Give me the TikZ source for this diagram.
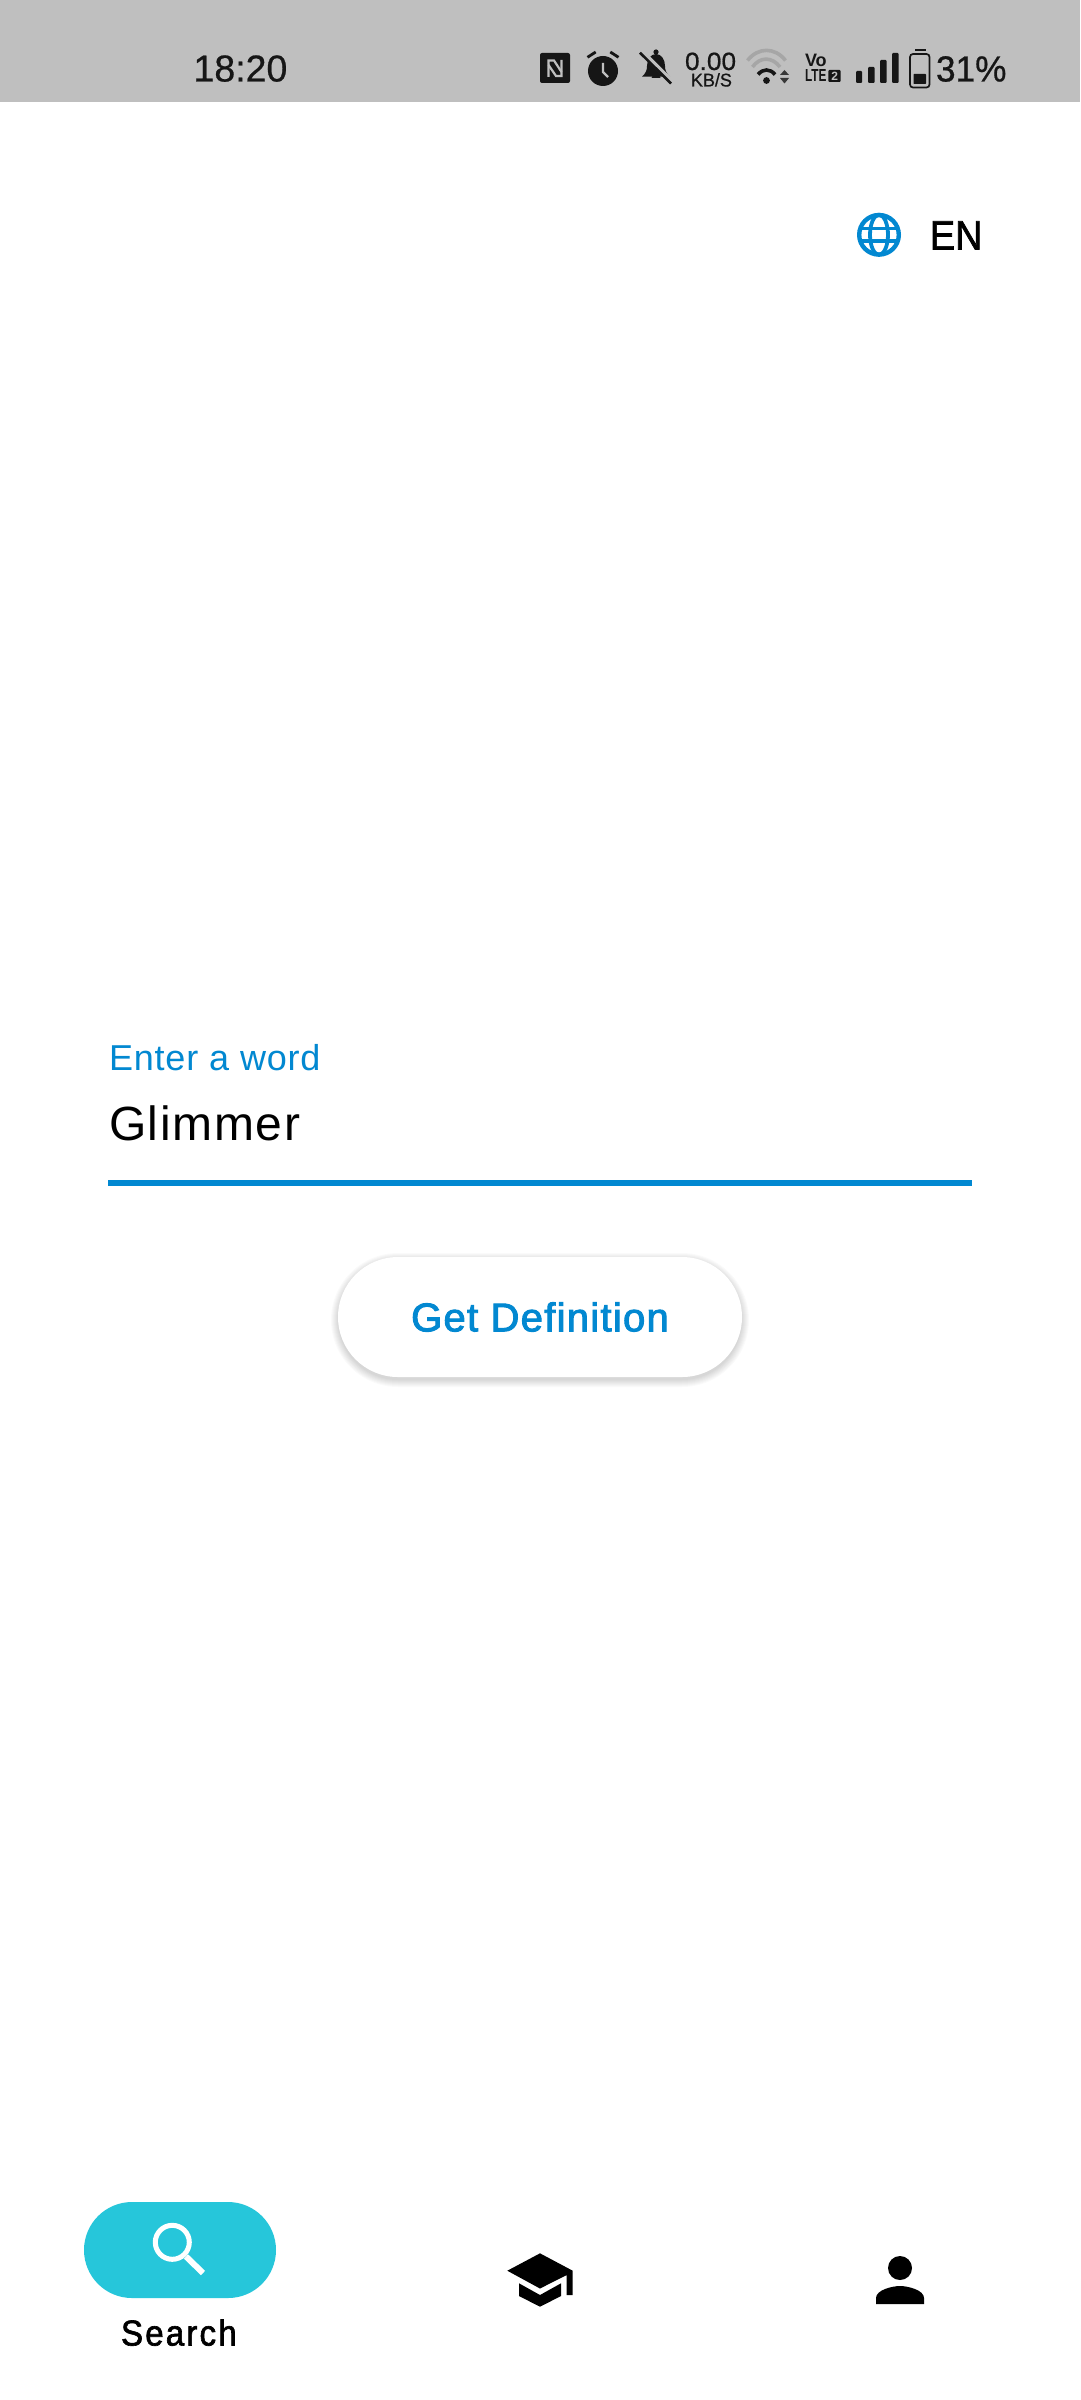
\documentclass[tikz,border=0pt]{standalone}
\usepackage{fontspec}
\setmainfont{Liberation Sans}
\newfontfamily\statusfont[FakeStretch=0.97,FakeBold=0.6]{Liberation Sans}
\newfontfamily\clockfont[FakeStretch=1.0,FakeBold=0.6]{Liberation Sans}
\newfontfamily\ratefont[FakeStretch=1.05,FakeBold=0.6]{Liberation Sans}
\newfontfamily\uifont{Liberation Sans}
\newfontfamily\medfont[FakeBold=2.4]{Liberation Sans}
\newfontfamily\mednarrow[FakeBold=1.8,FakeStretch=0.92]{Liberation Sans}
\definecolor{barbg}{HTML}{BFBFBF}
\definecolor{ink}{HTML}{161616}
\definecolor{accent}{HTML}{0288D1}
\definecolor{pill}{HTML}{26C6DA}
\definecolor{wifigrey}{HTML}{A6A6A6}
\tikzset{
  txt/.style={inner sep=0pt,outer sep=0pt,anchor=base west},
  icon/.style={fill=ink,draw=none},
  cut/.style={draw=barbg,line width=2.2pt},
}
\newcommand{\fs}[1]{\fontsize{#1}{#1}\selectfont}
\begin{document}
\begin{tikzpicture}[x=1pt,y=-1pt]
\useasboundingbox (0,0) rectangle (1080,2400);
\fill[white] (0,0) rectangle (1080,2400);
\fill[barbg] (0,0) rectangle (1080,102.5);
% status texts
\node[txt,text=ink] (clock) at (193.5,81.5) {\clockfont\fs{37.5}18:20};
\node[txt,text=ink] (pct) at (936,81.5) {\statusfont\fs{36.3}31\%};
\node[txt,text=ink] (rate) at (685,70) {\ratefont\fs{25}0.00};
\node[txt,text=ink] (unit) at (691,86.5) {\statusfont\fs{18.5}KB/S};
% NFC
\fill[icon,rounded corners=2pt] (540,53) rectangle (570,83);
\draw[cut,line join=miter] (548.5,77) -- (548.5,60.5) -- (554,60.5) -- (561.5,72);
\draw[cut,line join=miter] (561.5,60) -- (561.5,76) -- (556,76) -- (548.5,65);
% alarm
\fill[icon] (603,71) circle (15);
\draw[ink,line width=2.8pt] (587.5,57.3) -- (595.7,52);
\draw[ink,line width=2.8pt] (618.5,57.3) -- (610.3,52);
\draw[barbg,line width=2.4pt] (603,63) -- (603,72) -- (608,77);
% muted bell
\fill[icon] (656,52) circle (2.6);
\fill[icon] (642,76.7) .. controls (646,73) and (647,70) .. (647,66)
  .. controls (647,59) and (651,54) .. (656,54)
  .. controls (661,54) and (665,59) .. (665,66)
  .. controls (665,70) and (666,73) .. (670,76.7) -- cycle;
\fill[icon] (651.5,78) arc (180:0:4.5 and -3.7) -- cycle;
\draw[barbg,line width=5pt] (641,51) -- (672,82);
\draw[ink,line width=2.6pt] (640,52.7) -- (671,83.5);
% wifi
\draw[wifigrey,line width=3.6pt] (747.5,60.5) .. controls (758,47) and (775,47) .. (785.5,60.5);
\draw[wifigrey,line width=3.6pt] (752.5,67) .. controls (760,56.5) and (772,56.5) .. (780,67);
\draw[ink,line width=3.6pt] (758,74.5) .. controls (763,68.5) and (770,68.5) .. (775,74.5);
\fill[icon] (766.5,80.5) circle (3.4);
\fill[ink!80!barbg] (780,75) -- (784.5,70) -- (789,75) -- cycle;
\fill[ink!80!barbg] (780,78) -- (784.5,83.5) -- (789,78) -- cycle;
% VoLTE
\node[txt,text=ink] (vo) at (805,66.7) {\fs{18}\bfseries Vo};
\node[txt,text=ink] (lte) at (805,82) {\resizebox{21.5pt}{12pt}{\bfseries LTE}};
\fill[icon,rounded corners=1pt] (828.3,70) rectangle (840.5,82);
\node[txt,text=barbg] (lte2) at (831.3,80.5) {\fs{12}\bfseries 2};
% signal
\fill[icon,rounded corners=1pt] (856,71) rectangle (862,83);
\fill[icon,rounded corners=1pt] (868,67) rectangle (874.5,83);
\fill[icon,rounded corners=1pt] (880,60) rectangle (886.5,83);
\fill[icon,rounded corners=1pt] (892,53) rectangle (898.5,83);
% battery
\draw[ink,line width=1.7pt,rounded corners=3pt] (910,54) rectangle (929.5,87.5);
\fill[icon] (914.5,49) rectangle (925.5,51);
\fill[icon,rounded corners=.6pt] (913.5,74) rectangle (926,84);
% globe
\begin{scope}[accent]
\draw[line width=4.4pt] (879,234.8) circle (19.8);
\draw[line width=3.8pt] (879,234.8) ellipse (9 and 20);
\draw[line width=3.8pt] (860,228.5) -- (898,228.5);
\draw[line width=3.8pt] (860,241) -- (898,241);
\end{scope}
\node[txt] (lang) at (930,249.5) {\mednarrow\fs{41}EN};
% field
\node[txt,text=accent] (label) at (109,1070.5) {\uifont\addfontfeature{LetterSpace=2.3}\fs{36}Enter a word};
\node[txt] (word) at (109,1140) {\uifont\addfontfeature{LetterSpace=3.5}\fs{48}Glimmer};
\fill[accent] (108,1179.5) rectangle (972,1185.5);
% button
\foreach \e in {7,6,...,0}
  \fill[black,opacity=0.02,rounded corners={(60+\e)*1pt}]
    ({338-\e},{1260-\e}) rectangle ({742+\e},{1380+\e});
\node[inner sep=0pt,minimum width=404pt,minimum height=120pt,rounded corners=60pt,fill=white,
  text=accent] (btn) at (540,1317) {\medfont\addfontfeature{LetterSpace=3.2}\fs{40}Get Definition};
% nav
\fill[pill,rounded corners=48pt] (84,2202) rectangle (276,2298);
\draw[white,line width=5pt] (172.3,2242.3) circle (17);
\draw[white,line width=6pt] (186,2256.5) -- (203,2273);
\node[txt] (search) at (121,2345.5) {\mednarrow\addfontfeature{LetterSpace=6}\fs{36}Search};
% cap
\fill[black] (540,2253.3) -- (572.7,2270.7) -- (572.7,2295) -- (566.7,2295) -- (566.7,2275) -- (540,2288.5) -- (507.3,2270.7) -- cycle;
\fill[black] (519,2283.3) -- (540,2295) -- (561,2283.3) -- (561,2296) -- (540,2306.7) -- (519,2296) -- cycle;
% person
\fill[black] (900,2268) circle (12);
\fill[black] (876,2304) -- (876,2298) .. controls (876,2290) and (892,2286) .. (900,2286)
  .. controls (908,2286) and (924,2290) .. (924,2298) -- (924,2304) -- cycle;
\end{tikzpicture}
\end{document}
